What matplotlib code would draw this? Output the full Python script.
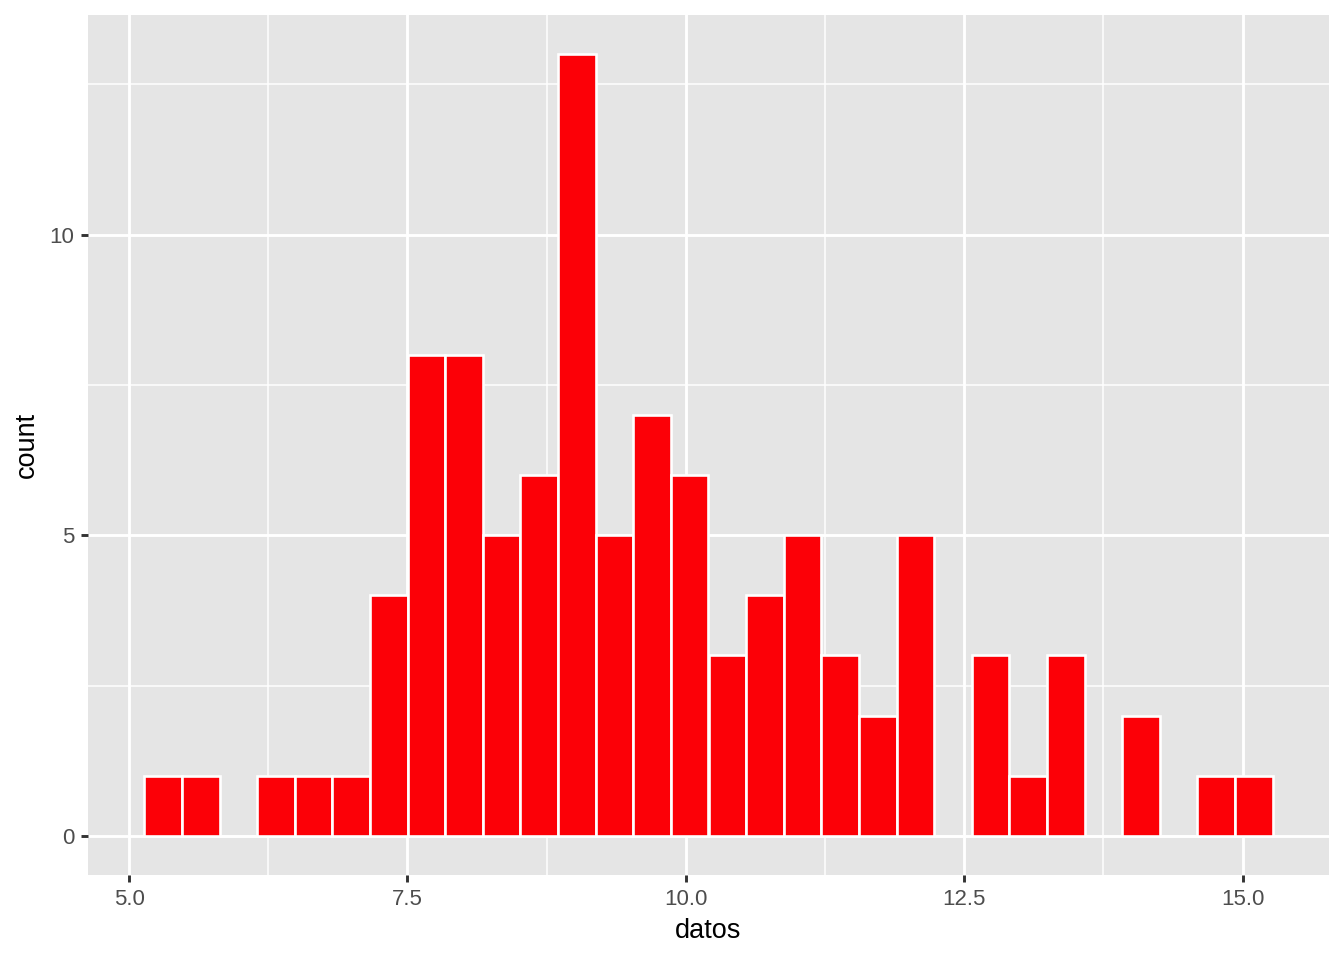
import matplotlib
matplotlib.use("Agg")
import matplotlib.pyplot as plt
import numpy as np
from matplotlib.ticker import MultipleLocator

plt.rcParams['font.family'] = ['Liberation Sans', 'DejaVu Sans']

# Histogram data (30 bins, ggplot2 style)
bin_start = 5.138
bin_width = 0.3377
counts = [1, 1, 0, 1, 1, 1, 4, 8, 8, 5, 6, 13, 5, 7, 6,
          3, 4, 5, 3, 2, 5, 0, 3, 1, 3, 0, 2, 0, 1, 1]
x_ticks = [5.0, 7.5, 10.0, 12.5, 15.0]
x_tick_labels = ["5.0", "7.5", "10.0", "12.5", "15.0"]
y_ticks = [0, 5, 10]
y_tick_labels = ["0", "5", "10"]
x_label = "datos"
y_label = "count"

fig = plt.figure(figsize=(13.44, 9.6), dpi=100)
ax = fig.add_axes([88 / 1344, 85 / 960, (1329 - 88) / 1344, (945 - 85) / 960])
ax.set_facecolor("#E5E5E5")

lefts = bin_start + bin_width * np.arange(len(counts))
ax.bar(lefts, counts, width=bin_width, align='edge', color="#FC0007",
       edgecolor="white", linewidth=1.9, zorder=3)

xmin = bin_start
xmax = bin_start + bin_width * len(counts)
xr = xmax - xmin
ax.set_xlim(xmin - 0.05 * xr, xmax + 0.05 * xr)
ymax = max(counts)
ax.set_ylim(-0.05 * ymax, ymax * 1.05)

ax.set_xticks(x_ticks)
ax.set_xticklabels(x_tick_labels)
ax.set_yticks(y_ticks)
ax.set_yticklabels(y_tick_labels)
ax.xaxis.set_minor_locator(MultipleLocator(1.25))
ax.yaxis.set_minor_locator(MultipleLocator(2.5))

ax.grid(which='major', color='white', linewidth=2.1, zorder=0)
ax.grid(which='minor', color='white', linewidth=1.1, zorder=0)
ax.set_axisbelow(True)

for s in ax.spines.values():
    s.set_visible(False)

ax.tick_params(which='major', length=5, width=2.1, color='#333333',
               labelsize=16, labelcolor='#4D4D4D', pad=5)
ax.tick_params(which='minor', length=0)

ax.set_xlabel(x_label, fontsize=19.5, color='black', labelpad=6)
ax.set_ylabel(y_label, fontsize=19.5, color='black', labelpad=7)

fig.savefig("out.png", dpi=100, facecolor="white")
